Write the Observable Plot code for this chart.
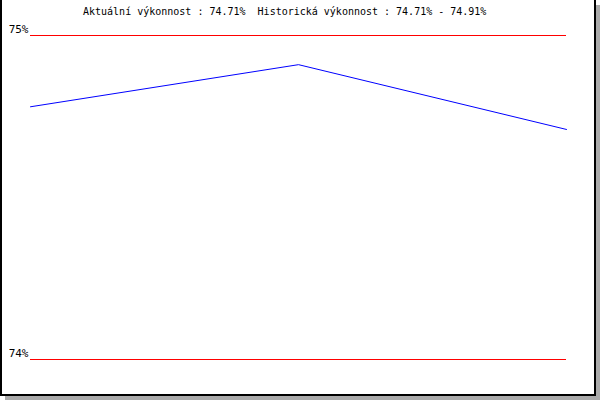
<!DOCTYPE html>
<html>
<head>
<meta charset="utf-8">
<script src="https://cdn.jsdelivr.net/npm/d3@7"></script>
<script src="https://cdn.jsdelivr.net/npm/@observablehq/plot@0.6"></script>
<style>
  html, body { margin: 0; padding: 0; background: #fff; }
  #wrap { position: relative; width: 600px; height: 400px; overflow: hidden; background: #fff; }
  #wrap svg { position: absolute; left: 0; top: 0; }
  .bd { position: absolute; }
  #title { position: absolute; left: 83px; top: 6px; font: 10px "DejaVu Sans Mono", monospace; color: #000; white-space: pre; line-height: 12px; }
</style>
</head>
<body>
<div id="wrap"></div>
<script>
// Data
const periods = [0, 1, 2];
const performance = [74.78, 74.91, 74.71];
const yTicks = [74, 75];
const titleText = "Aktuální výkonnost : 74.71%  Historická výkonnost : 74.71% - 74.91%";

const data = periods.map((p, i) => ({x: p, y: performance[i]}));

const chart = Plot.plot({
  width: 600,
  height: 400,
  marginLeft: 30,
  marginRight: 34,
  marginTop: 35,
  marginBottom: 41,
  style: {fontFamily: "DejaVu Sans Mono, monospace", fontSize: "11px", background: "transparent", color: "#000"},
  x: {domain: [0, 2], axis: null},
  y: {domain: [74, 75]},
  marks: [
    Plot.ruleY(yTicks, {stroke: "#ff0000", strokeWidth: 1, shapeRendering: "crispEdges"}),
    Plot.axisY({ticks: yTicks, tickSize: 0, tickPadding: 2, dy: -6, tickFormat: d => d + "%", fill: "#000", label: null}),
    Plot.line(data, {x: "x", y: "y", stroke: "#0000ff", strokeWidth: 1})
  ]
});

const wrap = document.getElementById("wrap");
wrap.appendChild(chart);

const t = document.createElement("div");
t.id = "title";
t.textContent = titleText;
wrap.appendChild(t);

function box(l, tp, w, h, c) {
  const d = document.createElement("div");
  d.className = "bd";
  d.style.left = l + "px"; d.style.top = tp + "px";
  d.style.width = w + "px"; d.style.height = h + "px";
  d.style.background = c;
  wrap.appendChild(d);
}
// frame: black left/right/bottom, grey drop shadow
box(0, 0, 2, 396, "#000");
box(594, 0, 2, 396, "#000");
box(0, 394, 596, 2, "#000");
box(596, 5, 4, 395, "#aaaaaa");
box(5, 396, 595, 4, "#aaaaaa");
</script>
</body>
</html>
